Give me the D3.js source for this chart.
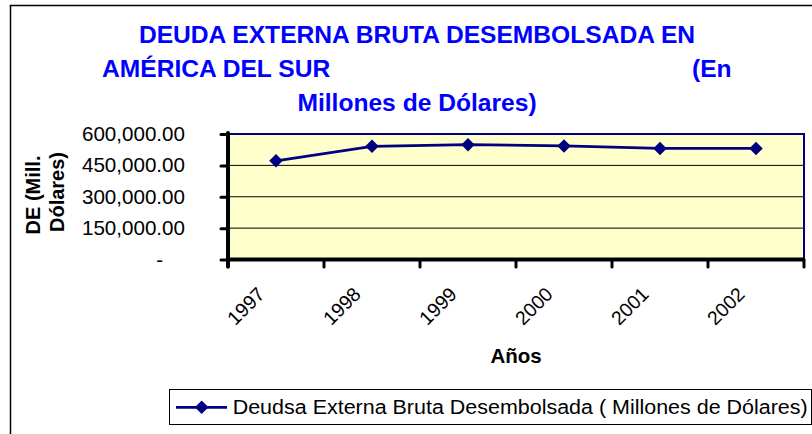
<!DOCTYPE html>
<html>
<head>
<meta charset="utf-8">
<script src="https://cdn.jsdelivr.net/npm/d3@7"></script>
<style>
  html, body { margin: 0; padding: 0; background: #fff; }
  svg { display: block; font-family: "Liberation Sans", Arial, sans-serif; }
</style>
</head>
<body>
<svg id="chart" width="812" height="434"></svg>
<script>
// data
var years = ['1997', '1998', '1999', '2000', '2001', '2002'];
var deuda = [472000, 541000, 549000, 543000, 531000, 531000];
var yTicks = [0, 150000, 300000, 450000, 600000];
var titleLines = ['DEUDA EXTERNA BRUTA DESEMBOLSADA EN', 'AMÉRICA DEL SUR', '(En', 'Millones de Dólares)'];
var yTitle = ['DE (Mill.', 'Dólares)'];
var xTitle = 'Años';
var seriesName = 'Deudsa Externa Bruta Desembolsada ( Millones de Dólares)';

var svg = d3.select('#chart');
var navy = '#000080';

// outer chart border (cropped on the right and bottom)
svg.append('rect')
  .attr('x', 10.5).attr('y', 5.5)
  .attr('width', 900).attr('height', 600)
  .attr('fill', 'none').attr('stroke', '#000').attr('stroke-width', 1.5);

// title
var title = svg.append('g')
  .attr('fill', '#0000ff')
  .attr('font-weight', 'bold')
  .attr('font-size', '24.6px');
title.append('text').attr('x', 417).attr('y', 43).attr('text-anchor', 'middle').text(titleLines[0]);
title.append('text').attr('x', 102).attr('y', 77).text(titleLines[1]);
title.append('text').attr('x', 692).attr('y', 77).text(titleLines[2]);
title.append('text').attr('x', 417).attr('y', 110.5).attr('text-anchor', 'middle').text(titleLines[3]);

// scales
var pLeft = 228, pRight = 804, pTop = 134, pBottom = 259.5;
var x = d3.scaleBand().domain(years).range([pLeft, pRight]).padding(0);
var y = d3.scaleLinear().domain([0, 600000]).range([pBottom, pTop]);

// plot area
svg.append('rect')
  .attr('x', pLeft).attr('y', pTop)
  .attr('width', pRight - pLeft).attr('height', pBottom - pTop)
  .attr('fill', '#ffffcc');

// gridlines
svg.append('g').selectAll('line')
  .data(yTicks.filter((d) => d > 0 && d < 600000))
  .enter().append('line')
  .attr('x1', pLeft).attr('x2', pRight)
  .attr('y1', (d) => y(d)).attr('y2', (d) => y(d))
  .attr('stroke', '#000').attr('stroke-width', 1);

// top and right border of plot area
svg.append('path')
  .attr('d', 'M' + pLeft + ',' + pTop + 'H' + pRight + 'V' + pBottom)
  .attr('fill', 'none').attr('stroke', navy).attr('stroke-width', 2);

// y axis
var yAxis = d3.axisLeft(y)
  .tickValues(yTicks)
  .tickSize(7)
  .tickPadding(36)
  .tickFormat((d) => d === 0 ? '-' : d3.format(',.2f')(d));

var yg = svg.append('g')
  .attr('transform', 'translate(' + pLeft + ',0)')
  .call(yAxis);
yg.select('.domain').remove();
yg.selectAll('.tick line').attr('stroke', '#000').attr('stroke-width', 3).attr('stroke-linecap', 'round');
yg.selectAll('.tick text')
  .attr('font-size', '20.6px').attr('font-family', '"Liberation Sans", Arial, sans-serif')
  .attr('fill', '#000');
yg.selectAll('.tick text').filter((d) => d === 0).attr('dx', -22);
yg.append('line')
  .attr('x1', 0).attr('x2', 0).attr('y1', pTop - 1).attr('y2', pBottom + 7)
  .attr('stroke', '#000').attr('stroke-width', 4).attr('stroke-linecap', 'round');

// x axis: boundary ticks + rotated labels at category centres
var xg = svg.append('g')
  .attr('transform', 'translate(0,' + pBottom + ')')
  .call(d3.axisBottom(x).tickSize(0).tickPadding(0));
xg.select('.domain').remove();
xg.selectAll('.tick text')
  .attr('font-size', '19.5px').attr('font-family', '"Liberation Sans", Arial, sans-serif')
  .attr('fill', '#000')
  .attr('text-anchor', 'end')
  .attr('y', 0).attr('dy', 0)
  .attr('transform', 'translate(-10,36) rotate(-45)');

var bounds = years.map((d) => x(d)).concat([x.range()[1]]);
xg.selectAll('.bound')
  .data(bounds)
  .enter().append('line')
  .attr('class', 'bound')
  .attr('x1', (d) => d).attr('x2', (d) => d)
  .attr('y1', 0).attr('y2', 7.5)
  .attr('stroke', '#000').attr('stroke-width', 3).attr('stroke-linecap', 'round');
xg.append('line')
  .attr('x1', pLeft).attr('x2', pRight)
  .attr('y1', 0).attr('y2', 0)
  .attr('stroke', '#000').attr('stroke-width', 4);

// axis titles
svg.append('text')
  .attr('x', 516).attr('y', 362.5)
  .attr('text-anchor', 'middle')
  .attr('font-weight', 'bold').attr('font-size', '20.5px')
  .text(xTitle);

var yt = svg.append('g').attr('font-weight', 'bold').attr('font-size', '20px');
yt.append('text')
  .attr('transform', 'translate(40,195) rotate(-90)')
  .attr('text-anchor', 'middle')
  .text(yTitle[0]);
yt.append('text')
  .attr('transform', 'translate(63.5,192) rotate(-90)')
  .attr('text-anchor', 'middle')
  .text(yTitle[1]);

// series
var cx = (d, i) => x(years[i]) + x.bandwidth() / 2;
var line = d3.line()
  .x(cx)
  .y((d) => y(d));

svg.append('path')
  .datum(deuda)
  .attr('d', line)
  .attr('fill', 'none').attr('stroke', navy).attr('stroke-width', 2.8);

var diamond = d3.symbol(d3.symbolSquare, 92);
svg.append('g').selectAll('path')
  .data(deuda)
  .enter().append('path')
  .attr('d', diamond)
  .attr('transform', (d, i) => 'translate(' + cx(d, i) + ',' + y(d) + ') rotate(45)')
  .attr('fill', navy);

// legend
var lg = svg.append('g');
lg.append('rect')
  .attr('x', 169.5).attr('y', 389.5)
  .attr('width', 642).attr('height', 35)
  .attr('fill', '#fff').attr('stroke', '#000').attr('stroke-width', 1);
lg.append('line')
  .attr('x1', 176).attr('x2', 227).attr('y1', 407.3).attr('y2', 407.3)
  .attr('stroke', navy).attr('stroke-width', 2.8);
lg.append('path')
  .attr('d', diamond)
  .attr('transform', 'translate(201.7,407.3) rotate(45)')
  .attr('fill', navy);
lg.append('text')
  .attr('x', 232.7).attr('y', 414)
  .attr('font-size', '20px')
  .attr('textLength', 575).attr('lengthAdjust', 'spacingAndGlyphs')
  .text(seriesName);
</script>
</body>
</html>
